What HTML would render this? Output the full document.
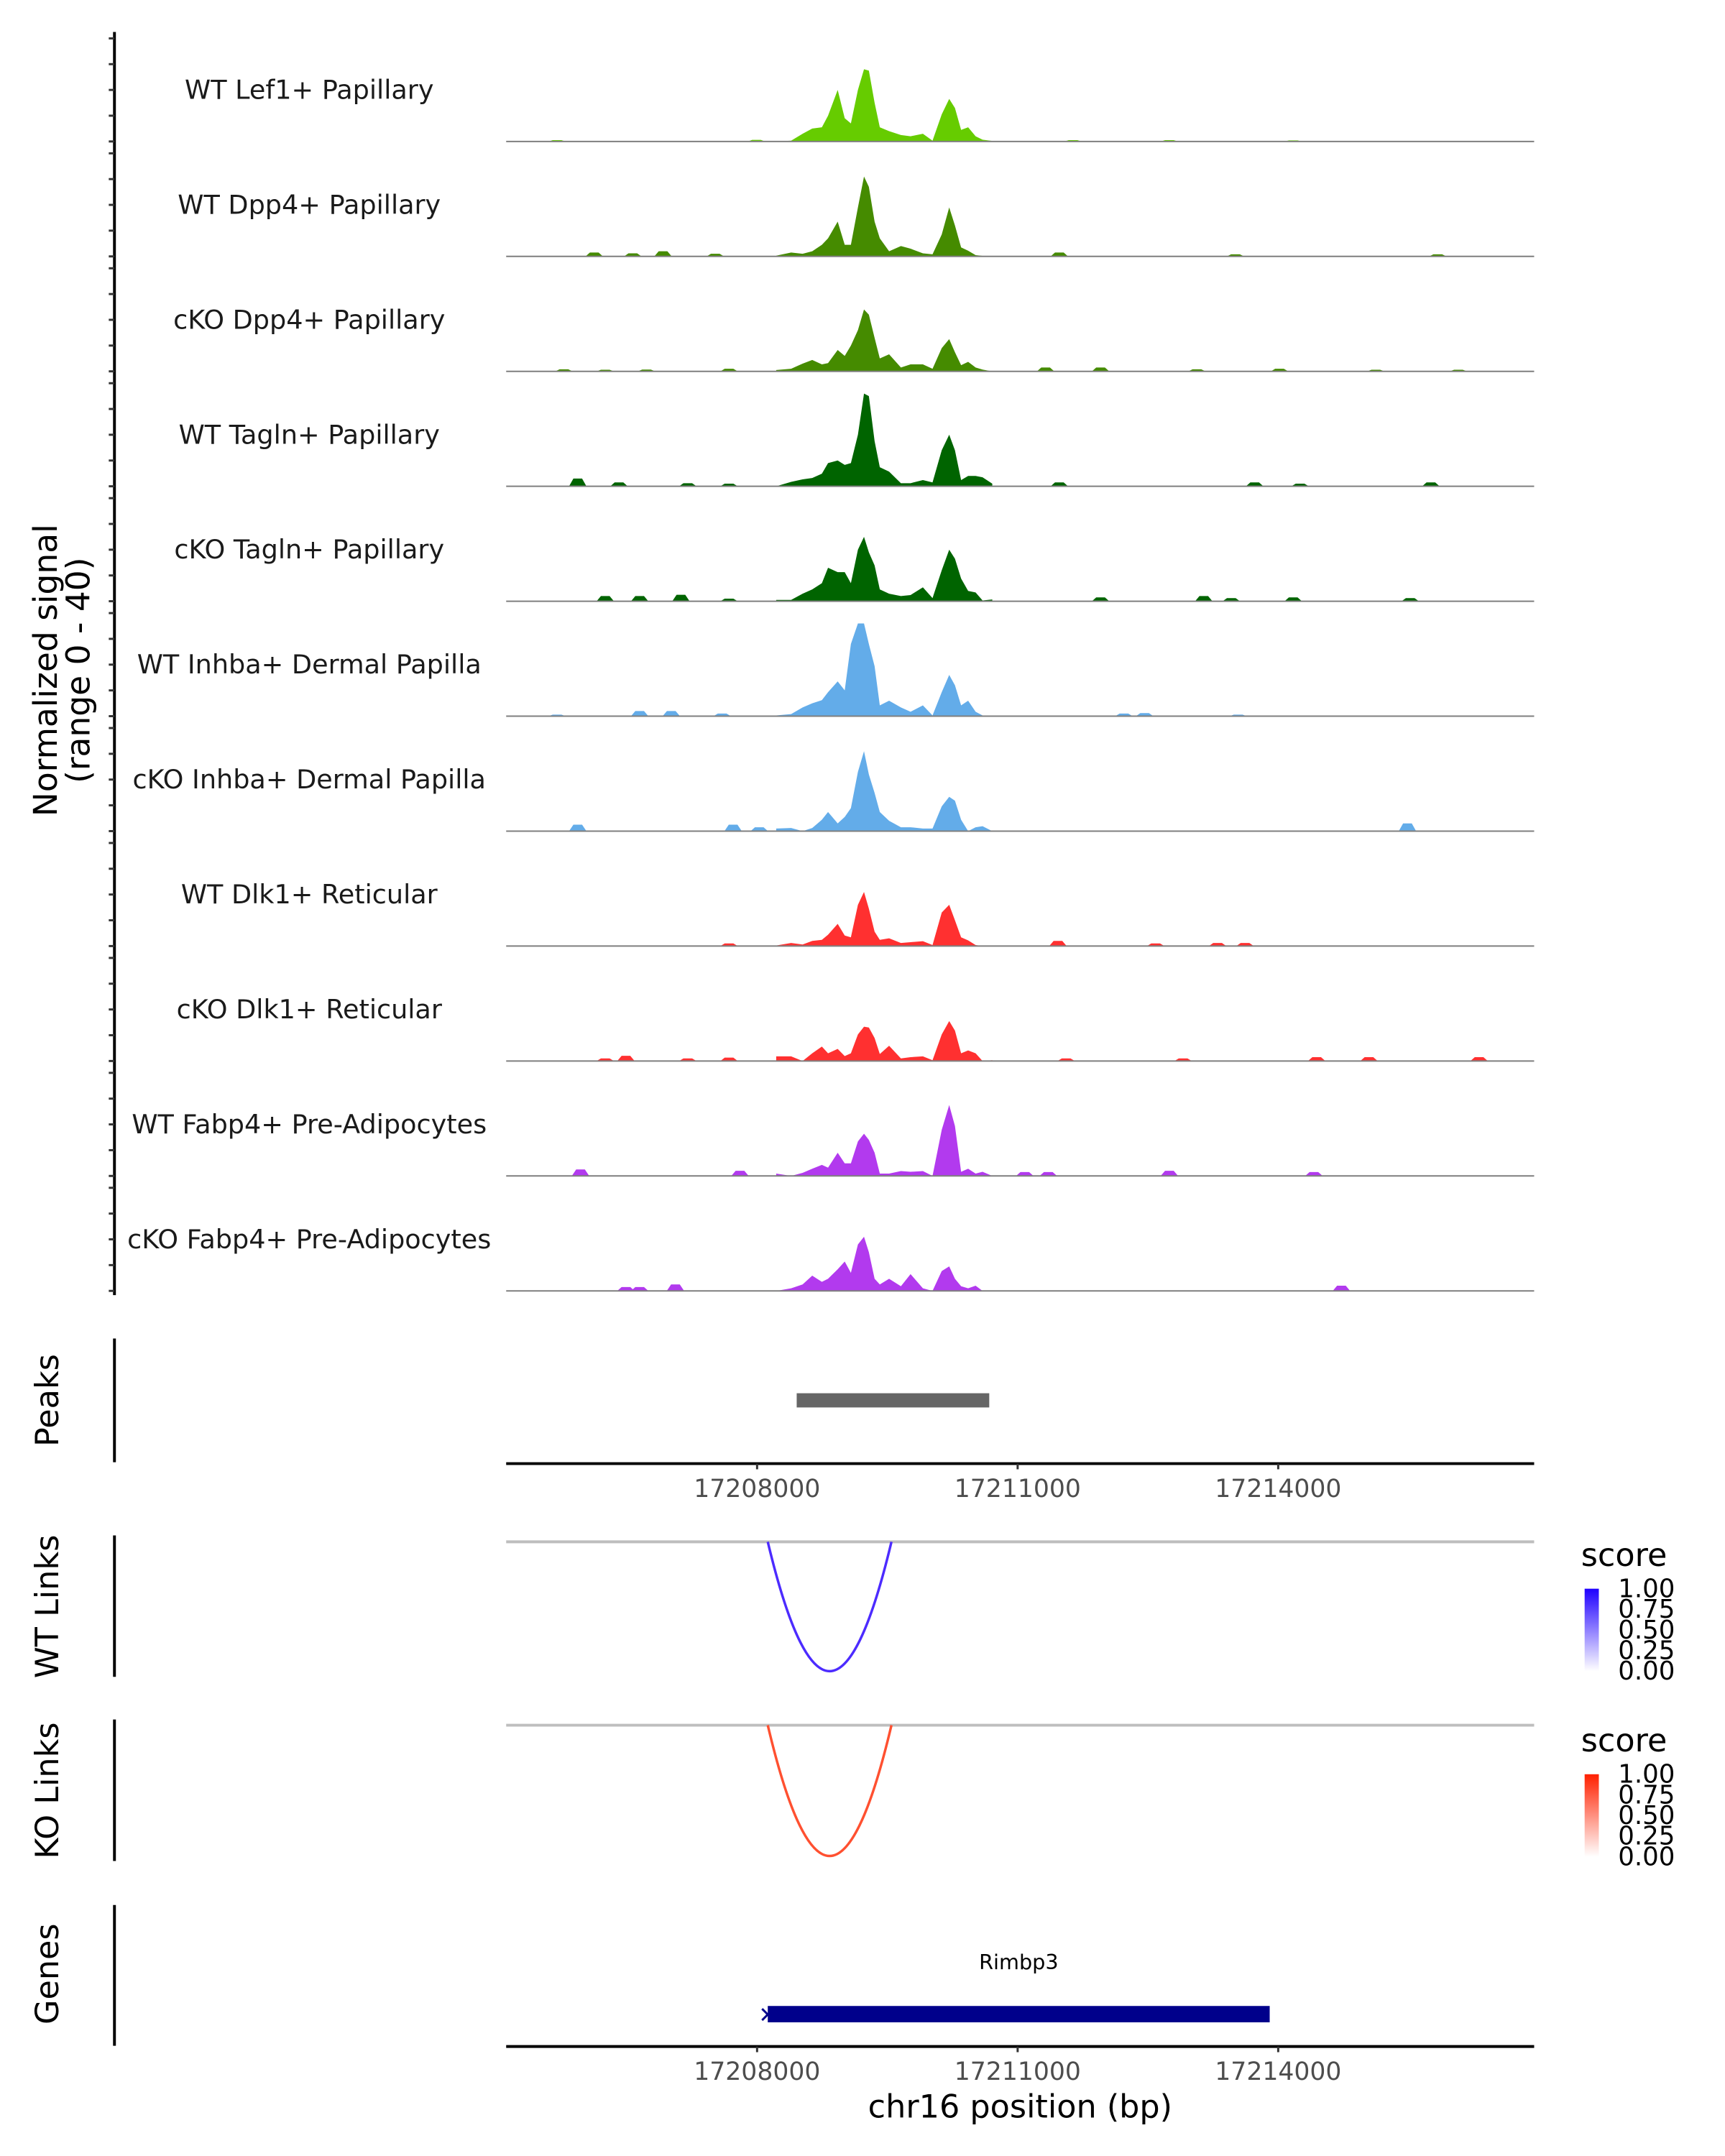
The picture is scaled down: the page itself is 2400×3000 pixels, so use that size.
<!DOCTYPE html>
<html><head><meta charset="utf-8"><style>
html,body{margin:0;padding:0;background:#fff;}
svg{display:block;font-family:"DejaVu Sans","Liberation Sans",sans-serif;}
</style></head><body>
<svg id="chart" width="2400" height="3000" viewBox="0 0 2400 3000" xmlns="http://www.w3.org/2000/svg">
<g transform="scale(0.9891)">
<g id="tracks"></g>
<g id="lower"></g>
</g>
</svg>
<script>
const trackNames = ["WT Lef1+ Papillary","WT Dpp4+ Papillary","cKO Dpp4+ Papillary","WT Tagln+ Papillary","cKO Tagln+ Papillary","WT Inhba+ Dermal Papilla","cKO Inhba+ Dermal Papilla","WT Dlk1+ Reticular","cKO Dlk1+ Reticular","WT Fabp4+ Pre-Adipocytes","cKO Fabp4+ Pre-Adipocytes"];
const trackColors = ["#66cc00","#458b00","#458b00","#006400","#006400","#63ace9","#63ace9","#ff3030","#ff3030","#b23aee","#b23aee"];
const clusterBp = [17208220,17208392,17208524,17208635,17208746,17208817,17208928,17209009,17209080,17209161,17209231,17209287,17209353,17209413,17209520,17209656,17209767,17209909,17210020,17210126,17210212,17210278,17210349,17210430,17210516,17210596,17210708];
const s1 = [0,0.3,3,5,5.5,10,20,9,7,20,28,27.5,15,5.5,4,2.5,2,3,0.3,10.5,16.5,13,4.5,5.5,2,0.7,0.2];
const s2 = [0.3,1.5,1,2,4.5,7,13.5,4.5,4.5,19,31,27,13.5,7,2,4,3,1.2,0.8,8.5,19,12,3.5,2.2,0.5,0.2,0];
const s3 = [0.5,1,3,4.4,2.7,3.2,8.3,6,10,16,24,22,13,5,6.6,1.5,2.7,2.7,1,9,12.5,7.4,2.4,3.7,1.5,0.7,0];
const s4 = [0,1.7,2.7,3.2,4.9,9,10,8.3,9,20,36,35,17.5,7.4,5.7,1.2,1.2,2.4,1.5,14,20,14,2.4,4,4,3.5,1];
const s5 = [0.5,0.5,2.9,4.6,7,13,11.3,11.3,7,20,25,19,13.9,4.6,2.9,2,2.4,5.4,1.2,12,20,16.5,8.8,4,3.4,0.3,0.7];
const s6 = [0.3,0.8,3.4,5,6.2,9.3,13.5,10,28,36,36,28,19.4,4.2,6,3.4,1.7,4.2,0.3,9.3,16,12,4.2,6,1.7,0.3,0.3];
const s7 = [1,1.2,0,1.2,4.4,7.4,3,5.5,8.9,23,31,22,14.8,7.4,4,1.5,1.5,1,1,9.6,13.3,11.8,4.4,0,1.5,1.9,0];
const s8 = [0.2,1.2,0.6,2,2.4,4.4,8.6,4.1,3.4,16,21,14.5,5.6,2.4,3,1.2,1.5,1.9,0.4,13,16,10,3.4,2.2,0.4,0,0.1];
const s9 = [1.8,1.8,0,3,5.6,3,4.7,1.9,3,10.3,13.3,13,8.9,2.7,5.9,1,1.5,1.8,0.3,10.3,15.5,11.8,3,4.1,3,0,0.3];
const s10 = [0.9,0,1.2,2.8,4.3,3.2,9,4.9,4.9,13.4,16.4,14,9,0.9,0.9,1.9,1.6,1.9,0,17.9,27.5,19.4,1.6,2.8,0.9,1.6,0];
const s11 = [0,1,2.5,5.9,3.5,4.7,8.4,11.4,7,18,21,15,4.7,2.5,4.7,1.8,6.5,1,0,7.7,9.5,4.7,1.8,1,2,0,0];
const clusterValues = [s1,s2,s3,s4,s5,s6,s7,s8,s9,s10,s11];
const blips = [
 [[17205697,0.5],[17207993,0.6],[17211638,0.5],[17212747,0.5],[17214173,0.4]],
 [[17206125,1.5],[17206569,1.2],[17206917,2],[17207519,1],[17211480,1.5],[17213508,0.8],[17215837,0.8]],
 [[17205776,0.8],[17206252,0.6],[17206727,0.7],[17207677,1],[17211322,1.5],[17211955,1.5],[17213064,0.8],[17214015,1],[17215124,0.6],[17216075,0.6]],
 [[17205935,3],[17206410,1.5],[17207202,1.2],[17207677,1],[17211480,1.5],[17213729,1.5],[17214252,1],[17215758,1.5]],
 [[17206252,2],[17206648,2],[17207123,2.5],[17207677,1],[17211955,1.5],[17213143,2],[17213460,1.2],[17214173,1.5],[17215520,1.2]],
 [[17205697,0.6],[17206648,2],[17207012,2],[17207598,1],[17212224,1],[17212462,1.2],[17213539,0.6]],
 [[17205935,2.5],[17207724,2.5],[17208025,1.5],[17208278,1.5],[17215488,3]],
 [[17207677,1],[17208389,1.5],[17211464,2],[17212589,1],[17213302,1.2],[17213618,1.2]],
 [[17206252,1],[17206490,2],[17207202,1],[17207677,1.3],[17211559,1],[17212905,1],[17214443,1.5],[17215045,1.5],[17216313,1.5]],
 [[17205967,2.5],[17207803,2],[17211082,1.5],[17211353,1.5],[17212747,2],[17214411,1.5]],
 [[17206490,1.5],[17206648,1.5],[17207060,2.5],[17214728,2]]
];
const xTicks = [17208000,17211000,17214000];
const yTicks = [0,10,20,30,40];
const peakRange = [17208456,17210673];
const linkRange = [17208123,17209547];
const geneRange = [17208123,17213902];
const legendTicks = ["1.00","0.75","0.50","0.25","0.00"];

const NS="http://www.w3.org/2000/svg";
const X0=712,X1=2158,BP0=17205111,BP1=17216947;
function xs(bp){return X0+(bp-BP0)/(BP1-BP0)*(X1-X0);}
const UNIT=145/40;
function base(i){return 199+i*161.7;}
function ys(i,v){return base(i)-v*UNIT;}
function mk(tag,attrs,parent){const e=document.createElementNS(NS,tag);for(const k in attrs)e.setAttribute(k,attrs[k]);parent.appendChild(e);return e;}

const tg=document.getElementById('tracks');
const lg=document.getElementById('lower');
let ax=mk('line',{x1:161,y1:45,x2:161,y2:1822,stroke:'#000','stroke-width':4},tg);


function blipPath(i,b){return `M${xs(b[0]-100)},${base(i)} L${xs(b[0]-50)},${ys(i,b[1])} L${xs(b[0]+50)},${ys(i,b[1])} L${xs(b[0]+100)},${base(i)} Z `;}
trackNames.forEach((name,i)=>{
  yTicks.forEach(t=>{
    const tk=mk('line',{x1:153,x2:161,y1:ys(i,t),y2:ys(i,t),stroke:'#333','stroke-width':3},tg);
    
    
  });
  const pre=blips[i].filter(b=>b[0]<clusterBp[0]);
  const post=blips[i].filter(b=>b[0]>clusterBp[clusterBp.length-1]);
  let d='';
  pre.forEach(b=>{d+=blipPath(i,b);});
  d+=`M${xs(clusterBp[0])},${base(i)} `;
  clusterBp.forEach((bp,j)=>{d+=`L${xs(bp)},${ys(i,clusterValues[i][j])} `;});
  d+=`L${xs(clusterBp[clusterBp.length-1])},${base(i)} Z `;
  post.forEach(b=>{d+=blipPath(i,b);});
  const area=mk('path',{d:d,fill:trackColors[i],'stroke-linejoin':'round'},tg);
  
  
  const bl=mk('line',{x1:X0,x2:X1,y1:base(i),y2:base(i),stroke:'#7f7f7f','stroke-width':2},tg);
  
  
  const lb=mk('text',{x:435,y:base(i)-60,'text-anchor':'middle','font-size':37,fill:'#1a1a1a'},tg);
  lb.textContent=name;
  
  
});
const yt=mk('text',{transform:'translate(80,943) rotate(-90)','text-anchor':'middle','font-size':46,fill:'#000'},tg);


const t1=mk('tspan',{x:0,dy:0},yt);t1.textContent='Normalized signal';
const t2=mk('tspan',{x:0,dy:46},yt);t2.textContent='(range 0 - 40)';

function sideTitle(txt,cy,y1,y2,nm){
  const t=mk('text',{transform:`translate(82,${cy}) rotate(-90)`,'text-anchor':'middle','font-size':45,fill:'#000'},lg);
  t.textContent=txt;
  
  
  const l=mk('line',{x1:161,x2:161,y1:y1,y2:y2,stroke:'#000','stroke-width':4},lg);
  
  
}
function xAxis(y,nm){
  const l=mk('line',{x1:X0,x2:X1,y1:y,y2:y,stroke:'#000','stroke-width':4},lg);
  
  
  xTicks.forEach(t=>{
    const tk=mk('line',{x1:xs(t),x2:xs(t),y1:y,y2:y+8,stroke:'#333','stroke-width':3},lg);
    
    
    const tl=mk('text',{x:xs(t),y:y+47,'text-anchor':'middle','font-size':35,fill:'#4d4d4d'},lg);
    tl.textContent=String(t);
    
    
  });
}
sideTitle('Peaks',1970,1883,2057,'peaks');
const pk=mk('rect',{x:xs(peakRange[0]),y:1960,width:xs(peakRange[1])-xs(peakRange[0]),height:20,fill:'#666'},lg);


xAxis(2059,'peaks-x-axis');

function links(y0,depth,color,nm,legY,gradId,c1){
  const g=mk('line',{x1:X0,x2:X1,y1:y0,y2:y0,stroke:'#bebebe','stroke-width':4},lg);
  
  
  const a=xs(linkRange[0]),b=xs(linkRange[1]);
  const arc=mk('path',{d:`M${a},${y0} Q${(a+b)/2},${y0+2*depth} ${b},${y0}`,fill:'none',stroke:color,'stroke-width':3.5},lg);
  
  
  const st=mk('text',{x:2224,y:legY-32,'font-size':45,fill:'#000'},lg);
  st.textContent='score';
  
  
  const defs=mk('defs',{},lg);
  const gr=mk('linearGradient',{id:gradId,x1:0,y1:0,x2:0,y2:1},defs);
  mk('stop',{offset:'0',"stop-color":c1},gr);
  mk('stop',{offset:'1',"stop-color":'#ffffff'},gr);
  const bar=mk('rect',{x:2229,y:legY,width:20,height:116,fill:`url(#${gradId})`},lg);
  
  
  legendTicks.forEach((t,k)=>{
    const yy=legY+k*29;
    const tl=mk('text',{x:2276,y:yy+12,'font-size':36,fill:'#000'},lg);
    tl.textContent=t;
    
    
  });
}
sideTitle('WT Links',2260,2160,2359,'wt-links');
links(2169,182,'#4c2bff','wt-links',2235,'gb','#1f00ff');
sideTitle('KO Links',2519,2419,2618,'ko-links');
links(2427,184,'#ff5030','ko-links',2496,'gr','#ff2000');

sideTitle('Genes',2777,2680,2878,'genes');
const gn=mk('rect',{x:xs(geneRange[0]),y:2822,width:xs(geneRange[1])-xs(geneRange[0]),height:23,fill:'#00008b'},lg);


const arr=mk('path',{d:`M${xs(geneRange[0])-8},2826 L${xs(geneRange[0])},2834 L${xs(geneRange[0])-8},2842`,fill:'none',stroke:'#00008b','stroke-width':3},lg);


const gl=mk('text',{x:(xs(geneRange[0])+xs(geneRange[1]))/2,y:2770,'text-anchor':'middle','font-size':29,fill:'#000'},lg);
gl.textContent='Rimbp3';


xAxis(2879,'genes-x-axis');
const xt=mk('text',{x:1435,y:2979,'text-anchor':'middle','font-size':45,fill:'#000'},lg);
xt.textContent='chr16 position (bp)';


</script>
</body></html>
